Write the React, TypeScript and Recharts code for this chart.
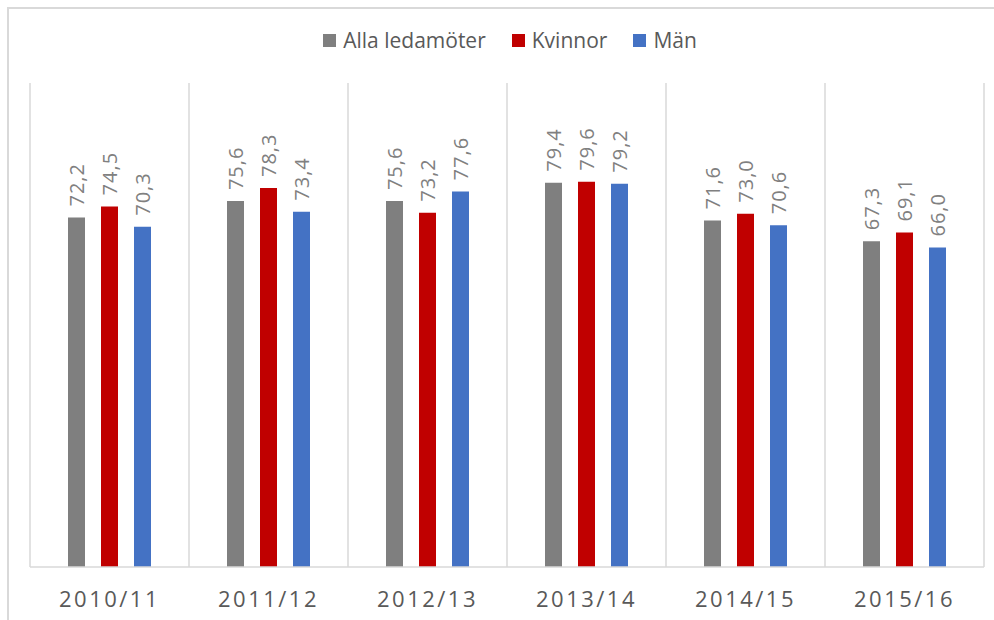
import { Bar, BarChart, CartesianGrid, LabelList, Legend, XAxis, YAxis } from "recharts";

const years = ["2010/11", "2011/12", "2012/13", "2013/14", "2014/15", "2015/16"];
const alla = [72.2, 75.6, 75.6, 79.4, 71.6, 67.3];
const kvinnor = [74.5, 78.3, 73.2, 79.6, 73.0, 69.1];
const man = [70.3, 73.4, 77.6, 79.2, 70.6, 66.0];

const seriesNames = ["Alla ledamöter", "Kvinnor", "Män"];
const seriesColors = ["#7f7f7f", "#c00000", "#4472c4"];
const seriesKeys = ["alla", "kvinnor", "man"];

const data = years.map((year, i) => ({
  year,
  alla: alla[i],
  kvinnor: kvinnor[i],
  man: man[i],
}));

const FONT = '"Open Sans", "DejaVu Sans", sans-serif';
const TEXT = "#595959";
const GRID = "#d9d9d9";

function fmt(v: number) {
  return v.toFixed(1).replace(".", ",");
}

function ValueLabel(props: any) {
  const { x, y, width, value } = props;
  const cx = x + width / 2;
  const cy = y - 11;
  return (
    <text
      x={cx}
      y={cy}
      transform={`rotate(-90 ${cx} ${cy})`}
      textAnchor="start"
      dominantBaseline="central"
      fill="#808080"
      fontSize={20}
      letterSpacing={1}
      fontFamily={FONT}
    >
      {fmt(Number(value))}
    </text>
  );
}

function YearTick(props: any) {
  const { x, y, payload } = props;
  return (
    <text
      x={x}
      y={y + 32}
      textAnchor="middle"
      fill={TEXT}
      fontSize={22}
      letterSpacing={2.5}
      fontFamily={FONT}
    >
      {payload.value}
    </text>
  );
}

function LegendRow() {
  return (
    <div style={{ display: "flex", justifyContent: "center", gap: 26, fontFamily: FONT }}>
      {seriesNames.map((name, i) => (
        <div key={name} style={{ display: "flex", alignItems: "center" }}>
          <span
            style={{ width: 13, height: 13, background: seriesColors[i], marginRight: 7, display: "inline-block" }}
          />
          <span style={{ fontSize: 21, color: TEXT, lineHeight: "24px" }}>{name}</span>
        </div>
      ))}
    </div>
  );
}

export default function App() {
  return (
    <div style={{ position: "absolute", left: 0, top: 0, width: 994, height: 620, overflow: "hidden", background: "#fff" }}>
      <div
        style={{
          position: "absolute",
          left: 7,
          top: 7,
          width: 1010,
          height: 700,
          border: `2px solid ${GRID}`,
        }}
      />
      <div style={{ position: "absolute", left: 0, top: 0 }}>
        <BarChart
          width={994}
          height={620}
          data={data}
          margin={{ top: 83, right: 10, bottom: 0, left: 30 }}
          barSize={17}
          barGap={16}
        >
          <CartesianGrid
            horizontal={false}
            stroke={GRID}
            strokeWidth={1.5}
            verticalCoordinatesGenerator={({ offset }: any) =>
              Array.from({ length: years.length + 1 }, (_, i) => offset.left + (i * offset.width) / years.length)
            }
          />
          <XAxis
            dataKey="year"
            height={53}
            tickLine={false}
            axisLine={{ stroke: GRID, strokeWidth: 1.5 }}
            tick={<YearTick />}
            interval={0}
          />
          <YAxis hide domain={[0, 100]} />
          <Legend
            verticalAlign="middle"
            layout="horizontal"
            wrapperStyle={{ top: 28, left: 26, width: 968 }}
            content={() => <LegendRow />}
          />
          {seriesKeys.map((key, i) => (
            <Bar key={key} dataKey={key} name={seriesNames[i]} fill={seriesColors[i]} isAnimationActive={false}>
              <LabelList dataKey={key} content={<ValueLabel />} />
            </Bar>
          ))}
        </BarChart>
      </div>
    </div>
  );
}
